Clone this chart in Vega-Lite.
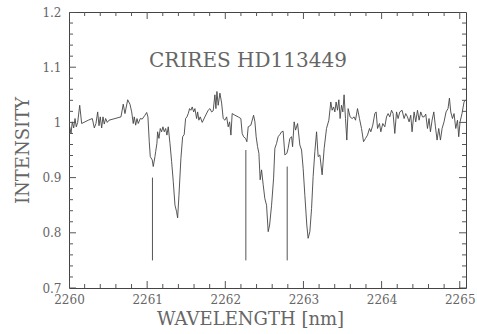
{
  "$schema": "https://vega.github.io/schema/vega-lite/v6.json",
  "width": 397,
  "height": 276,
  "autosize": {"type": "none"},
  "padding": {"left": 69, "top": 12, "right": 11, "bottom": 46},
  "background": "white",
  "datasets": {
    "spec": [
      {"w": 2260.009, "i": 0.992}, {"w": 2260.026, "i": 0.980}, {"w": 2260.042, "i": 1.001}, {"w": 2260.060, "i": 0.990},
      {"w": 2260.077, "i": 1.007}, {"w": 2260.093, "i": 0.992}, {"w": 2260.111, "i": 1.000}, {"w": 2260.137, "i": 1.031},
      {"w": 2260.162, "i": 0.998}, {"w": 2260.247, "i": 1.004}, {"w": 2260.298, "i": 1.007}, {"w": 2260.324, "i": 0.990},
      {"w": 2260.345, "i": 0.998}, {"w": 2260.367, "i": 1.019}, {"w": 2260.384, "i": 0.994}, {"w": 2260.400, "i": 1.010},
      {"w": 2260.418, "i": 0.990}, {"w": 2260.435, "i": 1.010}, {"w": 2260.451, "i": 0.997}, {"w": 2260.469, "i": 1.007},
      {"w": 2260.490, "i": 1.000}, {"w": 2260.512, "i": 1.004}, {"w": 2260.665, "i": 1.010}, {"w": 2260.694, "i": 1.033},
      {"w": 2260.716, "i": 1.016}, {"w": 2260.751, "i": 1.041}, {"w": 2260.780, "i": 1.033}, {"w": 2260.802, "i": 1.019},
      {"w": 2260.822, "i": 0.998}, {"w": 2260.835, "i": 1.010}, {"w": 2260.853, "i": 0.995}, {"w": 2260.870, "i": 1.007},
      {"w": 2260.886, "i": 0.998}, {"w": 2260.912, "i": 1.007}, {"w": 2260.937, "i": 1.006}, {"w": 2260.972, "i": 1.013},
      {"w": 2260.994, "i": 1.018}, {"w": 2261.010, "i": 1.010}, {"w": 2261.027, "i": 0.965}, {"w": 2261.040, "i": 0.938},
      {"w": 2261.065, "i": 0.932}, {"w": 2261.078, "i": 0.920}, {"w": 2261.100, "i": 0.938}, {"w": 2261.109, "i": 0.947},
      {"w": 2261.125, "i": 0.962}, {"w": 2261.134, "i": 0.983}, {"w": 2261.151, "i": 0.971}, {"w": 2261.168, "i": 0.989},
      {"w": 2261.185, "i": 0.983}, {"w": 2261.202, "i": 0.992}, {"w": 2261.219, "i": 0.983}, {"w": 2261.237, "i": 0.989},
      {"w": 2261.253, "i": 0.977}, {"w": 2261.270, "i": 0.992}, {"w": 2261.292, "i": 0.962}, {"w": 2261.313, "i": 0.929},
      {"w": 2261.334, "i": 0.893}, {"w": 2261.356, "i": 0.850}, {"w": 2261.377, "i": 0.838}, {"w": 2261.390, "i": 0.827},
      {"w": 2261.407, "i": 0.868}, {"w": 2261.432, "i": 0.935}, {"w": 2261.454, "i": 0.974}, {"w": 2261.474, "i": 0.978},
      {"w": 2261.492, "i": 1.007}, {"w": 2261.509, "i": 1.010}, {"w": 2261.526, "i": 1.016}, {"w": 2261.543, "i": 1.025},
      {"w": 2261.560, "i": 1.022}, {"w": 2261.577, "i": 1.028}, {"w": 2261.595, "i": 1.019}, {"w": 2261.611, "i": 1.025},
      {"w": 2261.633, "i": 1.007}, {"w": 2261.646, "i": 1.019}, {"w": 2261.662, "i": 1.004}, {"w": 2261.679, "i": 1.010},
      {"w": 2261.705, "i": 1.000}, {"w": 2261.739, "i": 1.010}, {"w": 2261.781, "i": 1.022}, {"w": 2261.803, "i": 1.025},
      {"w": 2261.825, "i": 1.019}, {"w": 2261.845, "i": 1.021}, {"w": 2261.867, "i": 1.050}, {"w": 2261.880, "i": 1.025},
      {"w": 2261.893, "i": 1.056}, {"w": 2261.909, "i": 1.031}, {"w": 2261.931, "i": 1.053}, {"w": 2261.953, "i": 1.035},
      {"w": 2261.973, "i": 1.007}, {"w": 2261.995, "i": 1.004}, {"w": 2262.017, "i": 1.010}, {"w": 2262.037, "i": 0.992},
      {"w": 2262.055, "i": 1.001}, {"w": 2262.072, "i": 0.977}, {"w": 2262.088, "i": 1.016}, {"w": 2262.123, "i": 1.013},
      {"w": 2262.165, "i": 1.010}, {"w": 2262.199, "i": 1.007}, {"w": 2262.216, "i": 0.980}, {"w": 2262.234, "i": 0.974},
      {"w": 2262.260, "i": 0.971}, {"w": 2262.276, "i": 0.965}, {"w": 2262.293, "i": 0.992}, {"w": 2262.327, "i": 0.995},
      {"w": 2262.362, "i": 1.013}, {"w": 2262.379, "i": 1.001}, {"w": 2262.395, "i": 0.974}, {"w": 2262.413, "i": 0.956},
      {"w": 2262.430, "i": 0.944}, {"w": 2262.446, "i": 0.896}, {"w": 2262.464, "i": 0.914}, {"w": 2262.485, "i": 0.887},
      {"w": 2262.506, "i": 0.862}, {"w": 2262.528, "i": 0.850}, {"w": 2262.549, "i": 0.802}, {"w": 2262.567, "i": 0.814},
      {"w": 2262.592, "i": 0.850}, {"w": 2262.618, "i": 0.899}, {"w": 2262.634, "i": 0.953}, {"w": 2262.656, "i": 0.962},
      {"w": 2262.676, "i": 0.974}, {"w": 2262.698, "i": 0.978}, {"w": 2262.720, "i": 0.983}, {"w": 2262.740, "i": 0.984},
      {"w": 2262.762, "i": 0.941}, {"w": 2262.788, "i": 0.944}, {"w": 2262.804, "i": 0.953}, {"w": 2262.826, "i": 0.971},
      {"w": 2262.848, "i": 0.974}, {"w": 2262.861, "i": 0.956}, {"w": 2262.881, "i": 1.001}, {"w": 2262.899, "i": 0.986},
      {"w": 2262.925, "i": 0.998}, {"w": 2262.954, "i": 0.959}, {"w": 2262.976, "i": 0.950}, {"w": 2262.996, "i": 0.917},
      {"w": 2263.018, "i": 0.868}, {"w": 2263.043, "i": 0.814}, {"w": 2263.060, "i": 0.790}, {"w": 2263.082, "i": 0.802},
      {"w": 2263.104, "i": 0.844}, {"w": 2263.124, "i": 0.902}, {"w": 2263.146, "i": 0.947}, {"w": 2263.168, "i": 0.983},
      {"w": 2263.188, "i": 0.938}, {"w": 2263.210, "i": 0.941}, {"w": 2263.239, "i": 0.905}, {"w": 2263.265, "i": 0.953},
      {"w": 2263.295, "i": 0.989}, {"w": 2263.325, "i": 1.004}, {"w": 2263.350, "i": 1.037}, {"w": 2263.367, "i": 1.022},
      {"w": 2263.385, "i": 1.028}, {"w": 2263.402, "i": 1.019}, {"w": 2263.418, "i": 1.037}, {"w": 2263.436, "i": 1.022},
      {"w": 2263.453, "i": 1.041}, {"w": 2263.469, "i": 1.007}, {"w": 2263.487, "i": 1.031}, {"w": 2263.504, "i": 1.019},
      {"w": 2263.520, "i": 1.050}, {"w": 2263.538, "i": 1.007}, {"w": 2263.555, "i": 0.968}, {"w": 2263.572, "i": 1.025},
      {"w": 2263.597, "i": 1.010}, {"w": 2263.623, "i": 1.007}, {"w": 2263.648, "i": 1.010}, {"w": 2263.666, "i": 1.004},
      {"w": 2263.692, "i": 1.025}, {"w": 2263.717, "i": 1.007}, {"w": 2263.743, "i": 0.989}, {"w": 2263.769, "i": 0.965},
      {"w": 2263.794, "i": 0.971}, {"w": 2263.820, "i": 0.977}, {"w": 2263.845, "i": 0.989}, {"w": 2263.862, "i": 0.983},
      {"w": 2263.887, "i": 0.995}, {"w": 2263.913, "i": 1.016}, {"w": 2263.930, "i": 1.019}, {"w": 2263.948, "i": 0.989},
      {"w": 2263.973, "i": 0.998}, {"w": 2263.990, "i": 0.983}, {"w": 2264.015, "i": 0.998}, {"w": 2264.041, "i": 0.992},
      {"w": 2264.063, "i": 1.010}, {"w": 2264.083, "i": 1.016}, {"w": 2264.105, "i": 1.010}, {"w": 2264.127, "i": 1.022},
      {"w": 2264.147, "i": 1.016}, {"w": 2264.169, "i": 0.980}, {"w": 2264.191, "i": 1.019}, {"w": 2264.211, "i": 1.007},
      {"w": 2264.233, "i": 1.019}, {"w": 2264.262, "i": 1.022}, {"w": 2264.288, "i": 1.007}, {"w": 2264.309, "i": 1.016},
      {"w": 2264.331, "i": 1.010}, {"w": 2264.352, "i": 1.001}, {"w": 2264.373, "i": 1.013}, {"w": 2264.390, "i": 0.983},
      {"w": 2264.416, "i": 1.019}, {"w": 2264.437, "i": 1.001}, {"w": 2264.459, "i": 1.022}, {"w": 2264.480, "i": 1.004},
      {"w": 2264.501, "i": 1.019}, {"w": 2264.523, "i": 1.010}, {"w": 2264.543, "i": 1.010}, {"w": 2264.565, "i": 1.015},
      {"w": 2264.587, "i": 0.989}, {"w": 2264.607, "i": 1.007}, {"w": 2264.625, "i": 0.983}, {"w": 2264.646, "i": 1.004},
      {"w": 2264.668, "i": 1.019}, {"w": 2264.689, "i": 0.992}, {"w": 2264.710, "i": 0.968}, {"w": 2264.731, "i": 0.989},
      {"w": 2264.753, "i": 0.968}, {"w": 2264.774, "i": 0.989}, {"w": 2264.799, "i": 1.001}, {"w": 2264.825, "i": 1.019},
      {"w": 2264.850, "i": 1.025}, {"w": 2264.868, "i": 1.044}, {"w": 2264.885, "i": 1.019}, {"w": 2264.907, "i": 1.007},
      {"w": 2264.927, "i": 1.016}, {"w": 2264.949, "i": 0.989}, {"w": 2264.971, "i": 1.004}, {"w": 2264.987, "i": 0.974},
      {"w": 2265.004, "i": 1.001}, {"w": 2265.029, "i": 1.016}, {"w": 2265.055, "i": 1.037}, {"w": 2265.077, "i": 1.041}
    ],
    "lines": [
      {"w": 2261.068, "lo": 0.75, "hi": 0.90},
      {"w": 2262.263, "lo": 0.75, "hi": 0.95},
      {"w": 2262.792, "lo": 0.75, "hi": 0.92}
    ],
    "label": [
      {"w": 2262.29, "i": 1.10, "text": "CRIRES HD113449"}
    ],
    "xmaj": [{"v": 2260}, {"v": 2261}, {"v": 2262}, {"v": 2263}, {"v": 2264}, {"v": 2265}],
    "xmin": [{"v": 2260.2}, {"v": 2260.4}, {"v": 2260.6}, {"v": 2260.8}, {"v": 2261.2}, {"v": 2261.4}, {"v": 2261.6}, {"v": 2261.8},
             {"v": 2262.2}, {"v": 2262.4}, {"v": 2262.6}, {"v": 2262.8}, {"v": 2263.2}, {"v": 2263.4}, {"v": 2263.6}, {"v": 2263.8},
             {"v": 2264.2}, {"v": 2264.4}, {"v": 2264.6}, {"v": 2264.8}],
    "ymaj": [{"v": 0.7}, {"v": 0.8}, {"v": 0.9}, {"v": 1.0}, {"v": 1.1}, {"v": 1.2}],
    "ymin": [{"v": 0.72}, {"v": 0.74}, {"v": 0.76}, {"v": 0.78}, {"v": 0.82}, {"v": 0.84}, {"v": 0.86}, {"v": 0.88},
             {"v": 0.92}, {"v": 0.94}, {"v": 0.96}, {"v": 0.98}, {"v": 1.02}, {"v": 1.04}, {"v": 1.06}, {"v": 1.08},
             {"v": 1.12}, {"v": 1.14}, {"v": 1.16}, {"v": 1.18}]
  },
  "layer": [
    {
      "data": {"name": "spec"},
      "mark": {"type": "line", "color": "#444", "strokeWidth": 0.9, "clip": true},
      "encoding": {
        "x": {"field": "w", "type": "quantitative",
              "scale": {"domain": [2260, 2265.08], "nice": false, "zero": false},
              "axis": {"orient": "bottom", "values": [2260, 2261, 2262, 2263, 2264, 2265], "format": "d",
                       "ticks": false, "labelPadding": 6, "labelBaseline": "top", "labelFlush": false,
                       "title": "WAVELENGTH [nm]", "titleX": 181, "titleY": 36, "titleBaseline": "alphabetic", "titleAnchor": null}},
        "y": {"field": "i", "type": "quantitative",
              "scale": {"domain": [0.7, 1.2], "nice": false, "zero": false},
              "axis": {"orient": "left", "values": [0.7, 0.8, 0.9, 1.0, 1.1, 1.2], "format": "~g",
                       "ticks": false, "labelPadding": 8, "labelFlush": false,
                       "title": "INTENSITY", "titleX": -41, "titleY": 138, "titleBaseline": "alphabetic", "titleAngle": 270, "titleAlign": "center"}}
      }
    },
    {
      "data": {"name": "lines"},
      "mark": {"type": "rule", "color": "#555", "strokeWidth": 1},
      "encoding": {
        "x": {"field": "w", "type": "quantitative"},
        "y": {"field": "lo", "type": "quantitative"},
        "y2": {"field": "hi"}
      }
    },
    {
      "data": {"name": "label"},
      "mark": {"type": "text", "font": "DejaVu Serif", "fontSize": 20, "color": "#666", "align": "center", "baseline": "alphabetic"},
      "encoding": {
        "x": {"field": "w", "type": "quantitative"},
        "y": {"field": "i", "type": "quantitative"},
        "text": {"field": "text"}
      }
    },
    {
      "data": {"name": "xmaj"},
      "mark": {"type": "tick", "orient": "vertical", "size": 14, "thickness": 1, "color": "#555", "opacity": 1, "clip": true},
      "encoding": {"x": {"field": "v", "type": "quantitative"}, "y": {"datum": 0.7, "type": "quantitative"}}
    },
    {
      "data": {"name": "xmaj"},
      "mark": {"type": "tick", "orient": "vertical", "size": 14, "thickness": 1, "color": "#555", "opacity": 1, "clip": true},
      "encoding": {"x": {"field": "v", "type": "quantitative"}, "y": {"datum": 1.2, "type": "quantitative"}}
    },
    {
      "data": {"name": "xmin"},
      "mark": {"type": "tick", "orient": "vertical", "size": 8, "thickness": 1, "color": "#555", "opacity": 1, "clip": true},
      "encoding": {"x": {"field": "v", "type": "quantitative"}, "y": {"datum": 0.7, "type": "quantitative"}}
    },
    {
      "data": {"name": "xmin"},
      "mark": {"type": "tick", "orient": "vertical", "size": 8, "thickness": 1, "color": "#555", "opacity": 1, "clip": true},
      "encoding": {"x": {"field": "v", "type": "quantitative"}, "y": {"datum": 1.2, "type": "quantitative"}}
    },
    {
      "data": {"name": "ymaj"},
      "mark": {"type": "tick", "orient": "horizontal", "size": 14, "thickness": 1, "color": "#555", "opacity": 1, "clip": true},
      "encoding": {"y": {"field": "v", "type": "quantitative"}, "x": {"datum": 2260, "type": "quantitative"}}
    },
    {
      "data": {"name": "ymaj"},
      "mark": {"type": "tick", "orient": "horizontal", "size": 14, "thickness": 1, "color": "#555", "opacity": 1, "clip": true},
      "encoding": {"y": {"field": "v", "type": "quantitative"}, "x": {"datum": 2265.08, "type": "quantitative"}}
    },
    {
      "data": {"name": "ymin"},
      "mark": {"type": "tick", "orient": "horizontal", "size": 8, "thickness": 1, "color": "#555", "opacity": 1, "clip": true},
      "encoding": {"y": {"field": "v", "type": "quantitative"}, "x": {"datum": 2260, "type": "quantitative"}}
    },
    {
      "data": {"name": "ymin"},
      "mark": {"type": "tick", "orient": "horizontal", "size": 8, "thickness": 1, "color": "#555", "opacity": 1, "clip": true},
      "encoding": {"y": {"field": "v", "type": "quantitative"}, "x": {"datum": 2265.08, "type": "quantitative"}}
    }
  ],
  "config": {
    "view": {"stroke": "#444", "strokeWidth": 1},
    "axis": {
      "domain": false, "grid": false, "ticks": false,
      "labelColor": "#666", "labelFont": "DejaVu Serif", "labelFontSize": 12,
      "titleColor": "#666", "titleFont": "DejaVu Serif", "titleFontSize": 18, "titleFontWeight": "normal"
    }
  }
}
